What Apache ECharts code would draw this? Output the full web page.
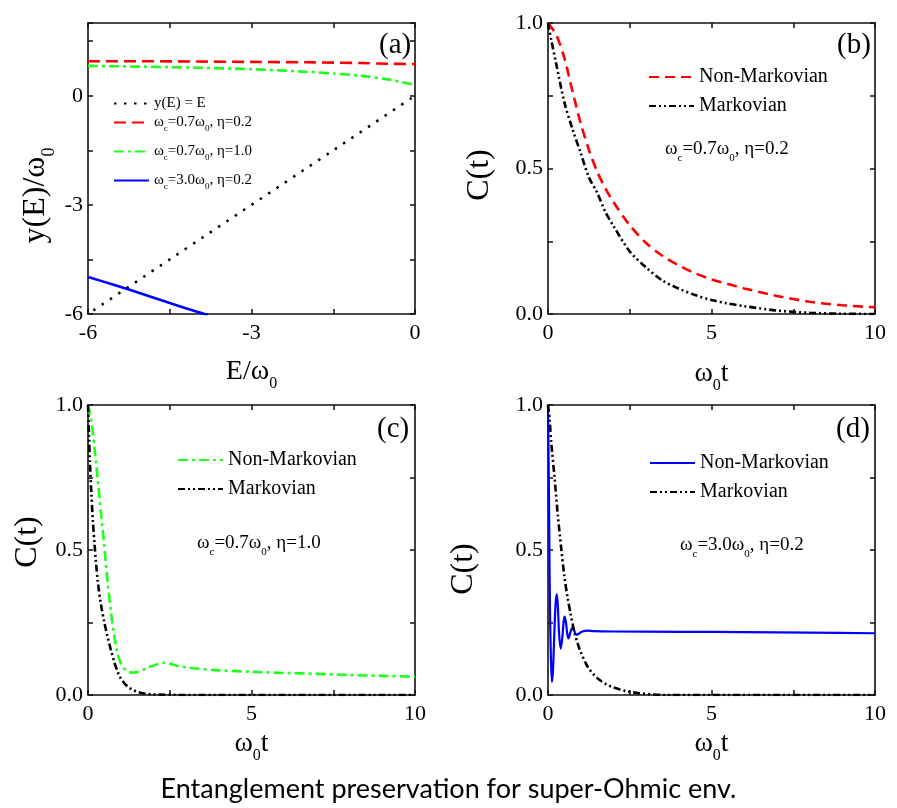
<!DOCTYPE html>
<html><head><meta charset="utf-8">
<script src="https://cdn.jsdelivr.net/npm/echarts@6/dist/echarts.min.js"></script>
<style>html,body{margin:0;padding:0;background:#fff}#c{width:897px;height:808px}</style>
</head><body><div id="c"></div>
<script>
// ---------- data ----------
// panel (a)
const A_DOT_E = [-5.9, 0];
const A_DOT_Y = [-5.9, 0];
const A_RED_E = [-6, -5, -4, -3, -2, -1, -0.5, 0];
const A_RED_Y = [0.95, 0.95, 0.94, 0.93, 0.92, 0.9, 0.88, 0.87];
const A_GREEN_E = [-6, -5, -4, -3, -2, -1.5, -1, -0.5, 0];
const A_GREEN_Y = [0.82, 0.8, 0.77, 0.73, 0.66, 0.61, 0.55, 0.45, 0.3];
const A_BLUE_E = [-6, -5.5, -5, -4.5, -4, -3.8];
const A_BLUE_Y = [-4.98, -5.21, -5.45, -5.7, -5.94, -6.03];
// panel (b)
const B_NM_T = [0, 0.25, 0.5, 0.75, 1, 1.25, 1.5, 1.75, 2, 2.5, 3, 3.5, 4, 4.5, 5, 5.5, 6, 7, 8, 9, 10];
const B_NM_C = [1.0, 0.96, 0.88, 0.765, 0.655, 0.565, 0.49, 0.433, 0.385, 0.305, 0.244, 0.2, 0.167, 0.14, 0.119, 0.103, 0.088, 0.062, 0.042, 0.03, 0.023];
const B_M_T = [0, 0.1, 0.25, 0.5, 0.75, 1, 1.25, 1.5, 1.75, 2, 2.5, 3, 3.5, 4, 4.5, 5, 5.5, 6, 7, 8, 9, 10];
const B_M_C = [1.0, 0.942, 0.86, 0.728, 0.635, 0.553, 0.47, 0.418, 0.352, 0.303, 0.215, 0.16, 0.115, 0.087, 0.065, 0.048, 0.036, 0.027, 0.012, 0.004, 0.001, 0.0];
// panel (c)
const C_NM_T = [0, 0.1, 0.2, 0.3, 0.4, 0.5, 0.6, 0.7, 0.8, 0.9, 1.0, 1.1, 1.2, 1.35, 1.5, 1.75, 2, 2.35, 2.75, 3.25, 4, 5, 6, 7, 8, 9, 10];
const C_NM_C = [1.0, 0.95, 0.85, 0.74, 0.625, 0.51, 0.39, 0.29, 0.205, 0.145, 0.11, 0.092, 0.082, 0.077, 0.079, 0.09, 0.102, 0.111, 0.1, 0.092, 0.085, 0.08, 0.076, 0.073, 0.069, 0.066, 0.063];
const C_M_T = [0, 0.03, 0.06, 0.1, 0.15, 0.2, 0.25, 0.3, 0.4, 0.5, 0.6, 0.7, 0.8, 0.9, 1.0, 1.2, 1.4, 1.6, 1.8, 2, 3, 4, 5, 6, 7, 8, 9, 10];
const C_M_C = [1.0, 0.9, 0.8, 0.7, 0.6, 0.52, 0.45, 0.39, 0.31, 0.25, 0.2, 0.155, 0.115, 0.082, 0.058, 0.03, 0.016, 0.008, 0.004, 0.002, 0, 0, 0, 0, 0, 0, 0, 0];
// panel (d)
const D_NM_T = [0, 0.02, 0.04, 0.06, 0.09, 0.12, 0.15, 0.19, 0.23, 0.27, 0.3, 0.34, 0.39, 0.44, 0.48, 0.51, 0.55, 0.59, 0.63, 0.68, 0.75, 0.81, 0.87, 0.95, 1.05, 1.2, 1.4, 2, 4, 6, 8, 10];
const D_NM_C = [1.0, 0.8, 0.55, 0.3, 0.12, 0.045, 0.08, 0.2, 0.31, 0.348, 0.31, 0.21, 0.16, 0.2, 0.255, 0.27, 0.25, 0.21, 0.195, 0.215, 0.233, 0.22, 0.207, 0.212, 0.219, 0.222, 0.22, 0.219, 0.218, 0.217, 0.215, 0.213];
const D_M_T = [0, 0.05, 0.1, 0.2, 0.3, 0.4, 0.5, 0.6, 0.7, 0.8, 0.9, 1.0, 1.2, 1.4, 1.6, 1.8, 2.0, 2.4, 2.8, 3.2, 3.6, 5, 7, 10];
const D_M_C = [1.0, 0.95, 0.87, 0.75, 0.62, 0.51, 0.41, 0.335, 0.275, 0.22, 0.18, 0.148, 0.1, 0.07, 0.05, 0.036, 0.026, 0.013, 0.006, 0.002, 0, 0, 0, 0];

// axis ranges / tick labels
const A_X = {min: -6, max: 0, step: 1.5, labelEvery: 3};
const A_Y = {min: -6, max: 2, step: 1.5, labelEvery: 3};
const T_X = {min: 0, max: 10, step: 2.5, labelEvery: 5};
const C_Y = {min: 0, max: 1, step: 0.25, labelEvery: 0.5};

const LABELS = {
  a_dot: '{n|y(E) = E}',
  a_red: '{n|ω}{s|c}{n|=0.7ω}{s|0}{n|, η=0.2}',
  a_green: '{n|ω}{s|c}{n|=0.7ω}{s|0}{n|, η=1.0}',
  a_blue: '{n|ω}{s|c}{n|=3.0ω}{s|0}{n|, η=0.2}',
  b_nm: 'Non-Markovian', b_m: 'Markovian',
  c_nm: 'Non-Markovian', c_m: 'Markovian',
  d_nm: 'Non-Markovian', d_m: 'Markovian'
};
const ANNOT = [
  '{n|ω}{s|c}{n|=0.7ω}{s|0}{n|, η=0.2}',
  '{n|ω}{s|c}{n|=0.7ω}{s|0}{n|, η=1.0}',
  '{n|ω}{s|c}{n|=3.0ω}{s|0}{n|, η=0.2}'
];
const TITLE = 'Entanglement preservation for super-Ohmic env.';

// ---------- build ----------
const SERIF = "'Liberation Serif', 'Times New Roman', serif";
const pts = (xs, ys) => xs.map((x, i) => [x, ys[i]]);
const RED = '#ff0000', GREEN = '#1eff1e', BLUE = '#0000ff', BLACK = '#000';

const grids = [
  {left: 88, top: 23, width: 327, height: 291},
  {left: 548, top: 23, width: 327, height: 291},
  {left: 88, top: 405, width: 327, height: 290},
  {left: 548, top: 405, width: 327, height: 290}
];

function fmt(spec) {
  return v => {
    const r = v / spec.labelEvery;
    if (Math.abs(r - Math.round(r)) > 1e-6) return '';
    const s = spec.labelEvery < 1 ? v.toFixed(1) : String(Math.round(v));
    return '{t|' + s + '}';
  };
}
const tickRich = {t: {fontFamily: SERIF, fontSize: 22, color: '#000'}};
const axLine = {onZero: false, lineStyle: {color: '#111', width: 1.6}};
const axTick = {inside: true, length: 5, lineStyle: {color: '#111', width: 1.5}};
const xNameRich = {
  n: {fontFamily: SERIF, fontSize: 28, color: '#000', lineHeight: 40, verticalAlign: 'middle'},
  s: {fontFamily: SERIF, fontSize: 16, color: '#000', lineHeight: 16, verticalAlign: 'bottom'}
};
const yNameRich = {
  n: {fontFamily: SERIF, fontSize: 32, color: '#000', lineHeight: 44, verticalAlign: 'middle'},
  s: {fontFamily: SERIF, fontSize: 18, color: '#000', lineHeight: 18, verticalAlign: 'bottom'}
};

function mainX(i, spec, name, gap) {
  return {type: 'value', gridIndex: i, position: 'bottom', min: spec.min, max: spec.max, interval: spec.step,
    axisLine: axLine, axisTick: axTick, splitLine: {show: false},
    axisLabel: {formatter: fmt(spec), fontFamily: SERIF, fontSize: 22, color: '#000', margin: 8, rich: tickRich},
    name: name, nameLocation: 'middle', nameGap: gap,
    nameTextStyle: {fontFamily: SERIF, fontSize: 28, color: '#000', rich: xNameRich}};
}
function mirrorX(i, spec) {
  return {type: 'value', gridIndex: i, position: 'top', min: spec.min, max: spec.max, interval: spec.step,
    axisLine: axLine, axisTick: axTick, splitLine: {show: false}, axisLabel: {show: false}};
}
function mainY(i, spec, name, gap, pad) {
  return {type: 'value', gridIndex: i, position: 'left', min: spec.min, max: spec.max, interval: spec.step,
    axisLine: axLine, axisTick: axTick, splitLine: {show: false},
    axisLabel: {formatter: fmt(spec), fontFamily: SERIF, fontSize: 22, color: '#000', margin: 5, rich: tickRich},
    name: name, nameLocation: 'middle', nameGap: gap,
    nameTextStyle: {fontFamily: SERIF, fontSize: 32, color: '#000', padding: pad, rich: yNameRich}};
}
function mirrorY(i, spec) {
  return {type: 'value', gridIndex: i, position: 'right', min: spec.min, max: spec.max, interval: spec.step,
    axisLine: axLine, axisTick: axTick, splitLine: {show: false}, axisLabel: {show: false}};
}
const tName = '{n|ω}{s|0}{n|t}';
const xAxes = [
  mainX(0, A_X, '{n|E/ω}{s|0}', 38), mainX(1, T_X, tName, 40), mainX(2, T_X, tName, 29), mainX(3, T_X, tName, 29),
  mirrorX(0, A_X), mirrorX(1, T_X), mirrorX(2, T_X), mirrorX(3, T_X)
];
const yAxes = [
  mainY(0, A_Y, '{n|y(E)/ω}{s|0}', 30, [0, 54, 0, 0]), mainY(1, C_Y, '{n|C(t)}', 46, [0, 13, 0, 0]),
  mainY(2, C_Y, '{n|C(t)}', 38, [0, 0, 0, 16]), mainY(3, C_Y, '{n|C(t)}', 62, [0, 38, 0, 0]),
  mirrorY(0, A_Y), mirrorY(1, C_Y), mirrorY(2, C_Y), mirrorY(3, C_Y)
];

function line(name, gi, xs, ys, color, type, width) {
  return {type: 'line', name: name, xAxisIndex: gi, yAxisIndex: gi, data: pts(xs, ys),
    showSymbol: false, symbol: 'none', smooth: 0.3, clip: true, animation: false,
    lineStyle: {color: color, type: type, width: width}, itemStyle: {color: color}};
}
const MARK = [7, 3, 2, 3, 2, 3];
const series = [
  line('a_dot', 0, A_DOT_E, A_DOT_Y, BLACK, [2.5, 7.5], 2.5),
  line('a_red', 0, A_RED_E, A_RED_Y, RED, [12, 6], 2.6),
  line('a_green', 0, A_GREEN_E, A_GREEN_Y, GREEN, [10, 4, 3, 4], 2.6),
  line('a_blue', 0, A_BLUE_E, A_BLUE_Y, BLUE, 'solid', 2.6),
  line('b_nm', 1, B_NM_T, B_NM_C, RED, [10, 6], 2.6),
  line('b_m', 1, B_M_T, B_M_C, BLACK, MARK, 2.6),
  line('c_nm', 2, C_NM_T, C_NM_C, GREEN, [10, 4, 3, 4], 2.6),
  line('c_m', 2, C_M_T, C_M_C, BLACK, MARK, 2.6),
  line('d_nm', 3, D_NM_T, D_NM_C, BLUE, 'solid', 2.2),
  line('d_m', 3, D_M_T, D_M_C, BLACK, MARK, 2.6)
];

const legendRich = {
  n: {fontFamily: SERIF, fontSize: 15, color: '#000', lineHeight: 22, verticalAlign: 'middle'},
  s: {fontFamily: SERIF, fontSize: 9, color: '#000', lineHeight: 9, verticalAlign: 'bottom'}
};
const legendRichT = {n: {fontFamily: SERIF, fontSize: 20, color: '#000'}};
const noSym = {opacity: 0, borderWidth: 0};
function legA(name, top) {
  return {data: [name], left: 113, top: top, orient: 'vertical', padding: 0, itemWidth: 35, itemHeight: 12,
    selectedMode: false, formatter: n => LABELS[n], itemStyle: noSym,
    textStyle: {fontFamily: SERIF, fontSize: 15, color: '#000', rich: legendRich}};
}
function legT(names, left, top) {
  return {data: names, left: left, top: top, orient: 'vertical', padding: 0, itemWidth: 45, itemHeight: 12, itemGap: 9,
    selectedMode: false, formatter: n => '{n|' + LABELS[n] + '}', itemStyle: noSym,
    textStyle: {fontFamily: SERIF, fontSize: 20, color: '#000', rich: legendRichT}};
}
const legends = [
  legA('a_dot', 96), legA('a_red', 115), legA('a_green', 144), legA('a_blue', 173),
  legT(['b_nm', 'b_m'], 648, 67), legT(['c_nm', 'c_m'], 177, 450), legT(['d_nm', 'd_m'], 649, 453)
];

const annRich = {
  n: {fontFamily: SERIF, fontSize: 19, fill: '#000', lineHeight: 28, verticalAlign: 'middle'},
  s: {fontFamily: SERIF, fontSize: 11, fill: '#000', lineHeight: 11, verticalAlign: 'bottom'}
};
function ann(text, x, y) {
  return {type: 'text', left: x, top: y, style: {text: text, rich: annRich, fill: '#000'}};
}
function panelLabel(text, x, y) {
  return {type: 'text', left: x, top: y, style: {text: text, fontFamily: SERIF, fontSize: 29, fill: '#000'}};
}
const graphics = [
  ann(ANNOT[0], 665, 140), ann(ANNOT[1], 197, 534), ann(ANNOT[2], 680, 536),
  panelLabel('(a)', 379, 31), panelLabel('(b)', 837, 31), panelLabel('(c)', 377, 415), panelLabel('(d)', 836, 415)
];

const chart = echarts.init(document.getElementById('c'), null, {renderer: 'canvas'});
chart.setOption({
  animation: false,
  backgroundColor: '#fff',
  textStyle: {fontFamily: SERIF},
  title: {text: TITLE, left: 'center', top: 771,
    textStyle: {fontFamily: 'Lato', fontSize: 27, fontWeight: 'normal', color: '#000'}},
  grid: grids,
  xAxis: xAxes,
  yAxis: yAxes,
  legend: legends,
  series: series,
  graphic: graphics
});
</script></body></html>
